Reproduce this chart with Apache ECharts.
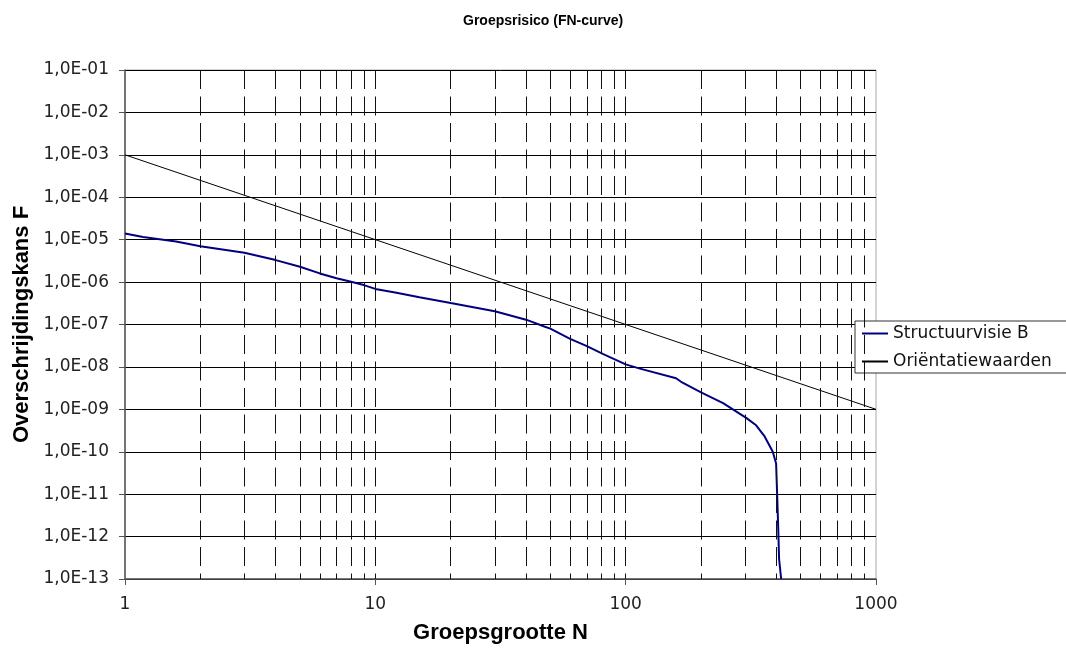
<!DOCTYPE html>
<html>
<head>
<meta charset="utf-8">
<script src="https://cdn.jsdelivr.net/npm/echarts@6/dist/echarts.min.js"></script>
<style>
  html, body { margin: 0; padding: 0; background: #fff; }
  #chart { width: 1066px; height: 649px; }
</style>
</head>
<body>
<div id="chart"></div>
<script>
// ---- Data ----
const chartTitle = 'Groepsrisico (FN-curve)';
const xAxisTitle = 'Groepsgrootte N';
const yAxisTitle = 'Overschrijdingskans F';
const seriesNames = ['Structuurvisie B', 'Oriëntatiewaarden'];

// Structuurvisie B: [N, F]
const structuurN = [1, 1.18, 1.6, 2, 3, 4, 5, 6, 7, 8, 9, 10, 12, 15, 20, 30, 40, 47, 50, 60, 70, 81, 100, 114, 159, 168, 200, 245, 303, 332, 359, 387, 399, 403, 407, 410, 418];
const structuurF = [1.4e-5, 1.15e-5, 9.1e-6, 7.0e-6, 4.9e-6, 3.3e-6, 2.3e-6, 1.6e-6, 1.23e-6, 1.02e-6, 8.5e-7, 6.9e-7, 5.7e-7, 4.4e-7, 3.2e-7, 2.05e-7, 1.3e-7, 9.1e-8, 8.0e-8, 4.6e-8, 3.1e-8, 2.04e-8, 1.15e-8, 9.1e-9, 5.4e-9, 4.3e-9, 2.5e-9, 1.4e-9, 6.3e-10, 4.2e-10, 2.3e-10, 1.0e-10, 5.3e-11, 9.0e-12, 1.5e-12, 3.0e-13, 1.0e-13];

// Oriëntatiewaarden: [N, F]
const orientatieN = [1, 1000];
const orientatieF = [1e-3, 1e-9];

// Axis ranges and gridline positions
const xMin = 1, xMax = 1000;
const yMin = 1e-13, yMax = 1e-1;
const xGridValues = [2, 3, 4, 5, 6, 7, 8, 9, 10, 20, 30, 40, 50, 60, 70, 80, 90, 100, 200, 300, 400, 500, 600, 700, 800, 900];

// ---- Build ----
const zip = (a, b) => a.map((v, i) => [v, b[i]]);
const labelFont = 'DejaVu Sans';
const boldFont = 'Liberation Sans, Arial, sans-serif';

// horizontal gridline colours (bottom to top); the top one is the light plot border
const hGridColors = ['#000', '#000', '#000', '#000', '#000', '#000', '#000', '#000', '#000', '#000', '#000', '#000', '#a8a8a8'];

const chart = echarts.init(document.getElementById('chart'), null, { renderer: 'canvas' });

const option = {
  backgroundColor: '#ffffff',
  animation: false,
  title: {
    text: chartTitle,
    left: 458,
    top: 9,
    textStyle: { fontFamily: boldFont, fontSize: 14, fontWeight: 'bold', color: '#000' }
  },
  legend: {
    data: seriesNames,
    orient: 'vertical',
    left: 855,
    top: 321,
    icon: 'rect',
    itemWidth: 26,
    itemHeight: 2,
    itemGap: 9,
    padding: [3, 30, 2, 7],
    borderColor: '#333',
    borderWidth: 1,
    backgroundColor: '#fff',
    textStyle: { fontFamily: labelFont, fontSize: 17, lineHeight: 19, color: '#111' }
  },
  grid: {
    left: 125, right: 190, top: 70, bottom: 66,
    show: true,
    borderColor: '#a8a8a8',
    borderWidth: 1,
    backgroundColor: '#fff'
  },
  xAxis: {
    type: 'log',
    logBase: 10,
    min: xMin,
    max: xMax,
    interval: 1,
    name: xAxisTitle,
    nameLocation: 'middle',
    nameGap: 43,
    nameTextStyle: { fontFamily: boldFont, fontSize: 22, fontWeight: 'bold', color: '#000' },
    axisLine: { show: true, lineStyle: { color: '#555', width: 1.5 } },
    axisTick: { show: true, inside: false, length: 6, lineStyle: { color: '#555', width: 1 } },
    axisLabel: {
      margin: 17,
      fontFamily: labelFont, fontSize: 17, color: '#222',
      showMinLabel: true, showMaxLabel: true,
      formatter: v => String(Math.round(v))
    },
    splitLine: { show: false },
    minorTick: { show: false },
    minorSplitLine: { show: false }
  },
  yAxis: {
    type: 'log',
    logBase: 10,
    min: yMin,
    max: yMax,
    interval: 1,
    name: yAxisTitle,
    nameLocation: 'middle',
    nameGap: 90,
    nameTextStyle: { fontFamily: boldFont, fontSize: 22, fontWeight: 'bold', color: '#000' },
    axisLine: { show: true, lineStyle: { color: '#555', width: 1.5 } },
    axisTick: { show: true, inside: false, length: 6, lineStyle: { color: '#555', width: 1 } },
    axisLabel: {
      margin: 16,
      fontFamily: labelFont, fontSize: 17, color: '#222',
      showMinLabel: true, showMaxLabel: true,
      formatter: v => {
        const e = Math.round(Math.log10(v));
        const a = Math.abs(e);
        return '1,0E' + (e < 0 ? '-' : '+') + (a < 10 ? '0' + a : String(a));
      }
    },
    splitLine: { show: true, lineStyle: { color: hGridColors, width: 1 } }
  },
  series: [
    {
      name: '__grid',
      type: 'line',
      data: [],
      silent: true,
      z: 1,
      markLine: {
        silent: true,
        symbol: ['none', 'none'],
        label: { show: false },
        emphasis: { disabled: true },
        animation: false,
        lineStyle: { color: '#111', width: 1, type: [19, 7.5] },
        data: xGridValues.map(v => [{ coord: [v, yMax] }, { coord: [v, yMin] }])
      }
    },
    {
      name: seriesNames[0],
      type: 'line',
      data: zip(structuurN, structuurF),
      symbol: 'none',
      smooth: false,
      z: 3,
      color: '#000080',
      lineStyle: { color: '#000080', width: 2 }
    },
    {
      name: seriesNames[1],
      type: 'line',
      data: zip(orientatieN, orientatieF),
      symbol: 'none',
      z: 2,
      color: '#000',
      lineStyle: { color: '#000', width: 1 }
    }
  ]
};

chart.setOption(option);
</script>
</body>
</html>
